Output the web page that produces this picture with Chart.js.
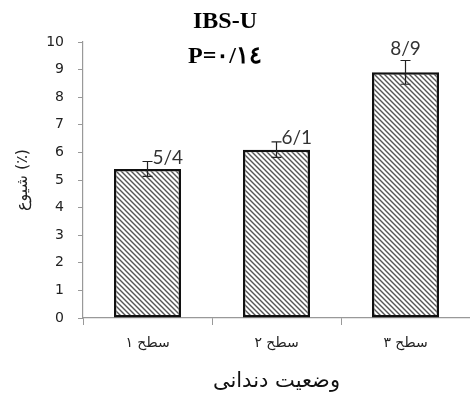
<!DOCTYPE html>
<html><head><meta charset="utf-8">
<script src="https://cdn.jsdelivr.net/npm/chart.js@4"></script>
<style>html,body{margin:0;padding:0;background:#fff}#wrap{width:470px;height:398px}</style>
</head><body><div id="wrap"><canvas id="c" width="470" height="398"></canvas></div>
<script>
const categories = ['سطح ۱', 'سطح ۲', 'سطح ۳'];
const values = [5.4, 6.1, 8.9];
const errors = [0.27, 0.28, 0.43];
const valueLabels = ['5/4', '6/1', '8/9'];
const yTicks = [0,1,2,3,4,5,6,7,8,9,10];
const titleLines = ['IBS-U', 'P=۰/۱٤'];
const yTitle = 'شیوع (٪)';
const xTitle = 'وضعیت دندانی';

function hatch(){
  const s = 5, p = document.createElement('canvas');
  p.width = s; p.height = s;
  const g = p.getContext('2d');
  g.fillStyle = '#fff'; g.fillRect(0,0,s,s);
  g.strokeStyle = '#555'; g.lineWidth = 1.4;
  g.beginPath();
  g.moveTo(-1,-1); g.lineTo(s+1,s+1);
  g.moveTo(-2,s-2); g.lineTo(2,s+2);
  g.moveTo(s-2,-2); g.lineTo(s+2,2);
  g.stroke();
  return document.getElementById('c').getContext('2d').createPattern(p,'repeat');
}

const extras = {
  id: 'extras',
  afterDatasetsDraw(chart){
    const ctx = chart.ctx, y = chart.scales.y;
    const meta = chart.getDatasetMeta(0);
    ctx.save();
    ctx.strokeStyle = '#222'; ctx.lineWidth = 1.2;
    meta.data.forEach((bar, i) => {
      const cx = bar.x;
      const t = y.getPixelForValue(values[i] + errors[i]);
      const b = y.getPixelForValue(values[i] - errors[i]);
      ctx.beginPath();
      ctx.moveTo(cx, t); ctx.lineTo(cx, b);
      ctx.moveTo(cx-5, t); ctx.lineTo(cx+5, t);
      ctx.moveTo(cx-5, b); ctx.lineTo(cx+5, b);
      ctx.stroke();
      ctx.fillStyle = '#333';
      ctx.font = '19px Lato, "Open Sans", sans-serif';
      ctx.textBaseline = 'alphabetic';
      if (i < 2) { ctx.textAlign = 'left'; ctx.fillText(valueLabels[i], cx + 5, t + 2); }
      else { ctx.textAlign = 'center'; ctx.fillText(valueLabels[i], cx, t - 5); }
    });
    ctx.fillStyle = '#000';
    ctx.textAlign = 'center';
    ctx.font = 'bold 24px "Liberation Serif", "DejaVu Serif", serif';
    ctx.fillText(titleLines[0], 225, 28);
    ctx.fillText(titleLines[1], 225, 63);
    ctx.restore();
  }
};

new Chart(document.getElementById('c'), {
  type: 'bar',
  data: { labels: categories, datasets: [{
    data: values,
    backgroundColor: hatch(),
    borderColor: '#111',
    borderWidth: 2.5,
    borderSkipped: false,
    barPercentage: 0.52,
    categoryPercentage: 1.0
  }]},
  options: {
    responsive: false, animation: false,
    devicePixelRatio: 1,
    layout: { padding: { top: 42, right: -5, left: 9, bottom: 0 } },
    plugins: { legend: { display: false }, tooltip: { enabled: false }, title: { display: false } },
    scales: {
      x: {
        grid: { display: true, drawOnChartArea: false, offset: true, tickLength: 7, color: '#999' },
        border: { color: '#999', width: 1.2 },
        ticks: { color: '#222', font: { family: '"DejaVu Sans", sans-serif', size: 14 }, padding: 10 },
        title: { display: true, text: xTitle, color: '#111', font: { family: '"DejaVu Sans", sans-serif', size: 21 }, padding: { top: 7 } }
      },
      y: {
        min: 0, max: 10,
        afterBuildTicks(s){ s.ticks = yTicks.map(v => ({ value: v })); },
        grid: { display: true, drawOnChartArea: false, tickLength: 5, color: '#999' },
        border: { color: '#999', width: 1.2 },
        ticks: { color: '#222', font: { family: '"DejaVu Sans", sans-serif', size: 14 }, padding: 14 },
        title: { display: true, text: yTitle, color: '#222', font: { family: '"DejaVu Sans", sans-serif', size: 16 }, padding: { bottom: 0 } }
      }
    }
  },
  plugins: [extras]
});
</script></body></html>
